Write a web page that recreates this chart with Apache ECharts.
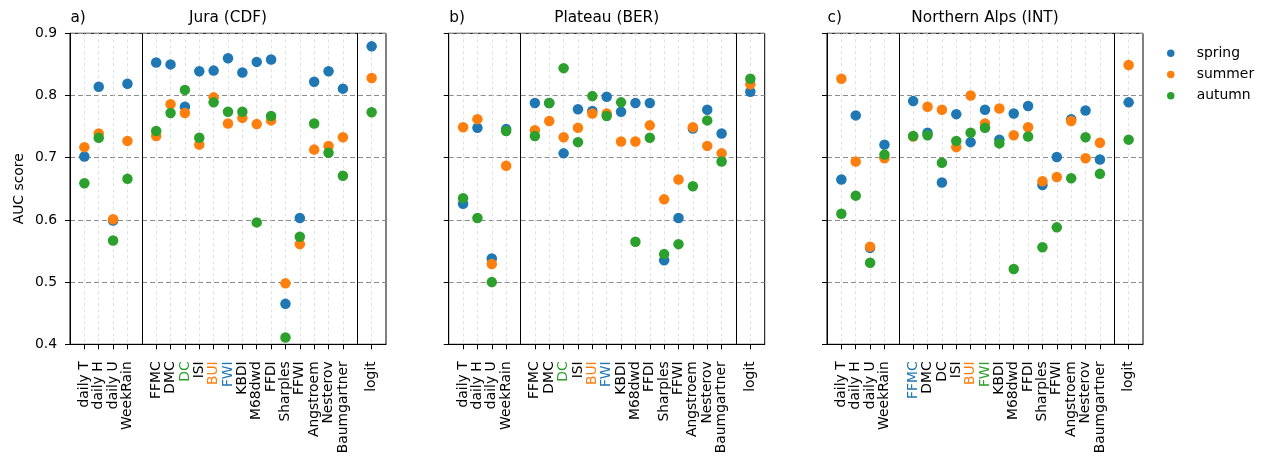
<!DOCTYPE html>
<html>
<head>
<meta charset="utf-8">
<script src="https://cdn.jsdelivr.net/npm/echarts@6/dist/echarts.min.js"></script>
<style>html,body{margin:0;padding:0;background:#fff}#c{width:1266px;height:466px}</style>
</head>
<body>
<div id="c"></div>
<script>
// ---- data ----
const dailyVars = ['daily T', 'daily H', 'daily U', 'WeekRain'];
const indices = ['FFMC', 'DMC', 'DC', 'ISI', 'BUI', 'FWI', 'KBDI', 'M68dwd', 'FFDI', 'Sharples', 'FFWI', 'Angstroem', 'Nesterov', 'Baumgartner'];
const models = ['logit'];
const categories = dailyVars.concat(indices, models);
const seasons = ['spring', 'summer', 'autumn'];
const yTicks = [0.4, 0.5, 0.6, 0.7, 0.8, 0.9];

const panelTitles = ['Jura (CDF)', 'Plateau (BER)', 'Northern Alps (INT)'];
const panelLetters = ['a)', 'b)', 'c)'];

// Jura (CDF)
const juraSpring = [0.702, 0.814, 0.599, 0.819, 0.853, 0.850, 0.782, 0.839, 0.840, 0.860, 0.837, 0.854, 0.858, 0.465, 0.603, 0.822, 0.839, 0.811, 0.879];
const juraSummer = [0.717, 0.739, 0.601, 0.727, 0.735, 0.786, 0.772, 0.721, 0.797, 0.755, 0.764, 0.754, 0.760, 0.498, 0.561, 0.713, 0.719, 0.733, 0.828];
const juraAutumn = [0.659, 0.732, 0.567, 0.666, 0.743, 0.772, 0.809, 0.732, 0.789, 0.774, 0.774, 0.596, 0.767, 0.411, 0.573, 0.755, 0.708, 0.671, 0.773];
// Plateau (BER)
const plateauSpring = [0.626, 0.748, 0.538, 0.746, 0.788, 0.788, 0.707, 0.778, 0.775, 0.798, 0.774, 0.788, 0.788, 0.535, 0.603, 0.747, 0.777, 0.739, 0.806];
const plateauSummer = [0.749, 0.762, 0.529, 0.687, 0.744, 0.759, 0.733, 0.748, 0.771, 0.771, 0.726, 0.726, 0.752, 0.633, 0.665, 0.749, 0.719, 0.707, 0.818];
const plateauAutumn = [0.635, 0.603, 0.500, 0.743, 0.735, 0.788, 0.844, 0.725, 0.799, 0.767, 0.789, 0.565, 0.732, 0.545, 0.561, 0.654, 0.760, 0.694, 0.827];
// Northern Alps (INT)
const alpsSpring = [0.665, 0.768, 0.555, 0.721, 0.791, 0.740, 0.660, 0.770, 0.725, 0.777, 0.729, 0.771, 0.783, 0.656, 0.701, 0.762, 0.776, 0.697, 0.789];
const alpsSummer = [0.827, 0.694, 0.557, 0.699, 0.734, 0.782, 0.777, 0.717, 0.800, 0.755, 0.779, 0.736, 0.749, 0.662, 0.669, 0.759, 0.699, 0.724, 0.849];
const alpsAutumn = [0.610, 0.639, 0.531, 0.705, 0.735, 0.736, 0.692, 0.727, 0.740, 0.748, 0.723, 0.521, 0.734, 0.556, 0.588, 0.667, 0.733, 0.674, 0.729];

const panelData = [
  [juraSpring, juraSummer, juraAutumn],
  [plateauSpring, plateauSummer, plateauAutumn],
  [alpsSpring, alpsSummer, alpsAutumn]
];
// best index label per season (coloured tick labels)
const juraBest = {FWI: 'spring', BUI: 'summer', DC: 'autumn'};
const plateauBest = {FWI: 'spring', BUI: 'summer', DC: 'autumn'};
const alpsBest = {FFMC: 'spring', BUI: 'summer', FWI: 'autumn'};
const panelBest = [juraBest, plateauBest, alpsBest];

// ---- layout / style ----
const colors = {spring: '#1f77b4', summer: '#ff7f0e', autumn: '#2ca02c'};
const FONT = 'DejaVu Sans';
const gridLefts = [70, 448.7, 827];
const gridW = 316, gridTop = 33.3, gridH = 311;

// slot axis: pad, daily vars, separator, indices, separator, models, pad
const slots = ['_p0'].concat(dailyVars, ['_s1'], indices, ['_s2'], models, ['_p1']);
const sepSlots = ['_s1', '_s2'];
const slotOf = name => slots.indexOf(name);

const grids = [], xAxes = [], yAxes = [], series = [], titles = [];
for (let p = 0; p < 3; p++) {
  grids.push({left: gridLefts[p], top: gridTop, width: gridW, height: gridH, show: true,
    borderColor: '#000', borderWidth: 1, backgroundColor: 'transparent', containLabel: false});
  const best = panelBest[p];
  xAxes.push({
    type: 'category', gridIndex: p, data: slots, boundaryGap: false,
    axisLine: {show: true, lineStyle: {color: '#000', width: 1}},
    axisTick: {show: true, length: 5, lineStyle: {color: '#000'}, interval: (i, v) => v[0] !== '_'},
    axisLabel: {
      interval: (i, v) => v[0] !== '_', rotate: 90, margin: 17,
      fontFamily: FONT, fontSize: 13.9,
      formatter: v => v[0] === '_' ? '' : v,
      color: v => best[v] ? colors[best[v]] : '#000'
    },
    splitLine: {show: true, interval: (i, v) => v[0] !== '_', lineStyle: {color: '#d9d9d9', type: [3, 3], width: 0.8}}
  });
  yAxes.push({
    type: 'value', gridIndex: p, min: yTicks[0], max: yTicks[yTicks.length - 1], interval: 0.1,
    name: p === 0 ? 'AUC score' : '', nameLocation: 'middle', nameGap: 44, nameRotate: 90,
    nameTextStyle: {fontFamily: FONT, fontSize: 13.9, color: '#000'},
    axisLine: {show: true, lineStyle: {color: '#000'}},
    axisTick: {show: true, length: 5, lineStyle: {color: '#000'}},
    axisLabel: {show: p === 0, margin: 13, fontFamily: FONT, fontSize: 13.9, color: '#000',
      formatter: v => v.toFixed(1)},
    splitLine: {show: true, lineStyle: {color: '#8c8c8c', type: [5, 3], width: 1}}
  });
  for (let s = 0; s < 3; s++) {
    const vals = panelData[p][s];
    const ser = {
      name: seasons[s], type: 'scatter', xAxisIndex: p, yAxisIndex: p,
      symbol: 'circle', symbolSize: 10.5,
      itemStyle: {color: colors[seasons[s]], opacity: 1},
      z: 3 + s,
      data: categories.map((c, i) => [slotOf(c), vals[i]])
    };
    if (s === 0) {
      ser.markLine = {silent: true, symbol: 'none', animation: false,
        label: {show: false},
        lineStyle: {color: '#000', type: 'solid', width: 1},
        emphasis: {disabled: true},
        data: sepSlots.map(n => ({xAxis: slotOf(n)}))};
    }
    series.push(ser);
  }
  titles.push({text: panelTitles[p], left: gridLefts[p] + gridW / 2, top: 11, padding: 0, textAlign: 'center',
    textStyle: {fontFamily: FONT, fontSize: 15.3, fontWeight: 'normal', color: '#000'}});
  titles.push({text: panelLetters[p], left: gridLefts[p] + 0.5, top: 11, padding: 0,
    textStyle: {fontFamily: FONT, fontSize: 15.3, fontWeight: 'normal', color: '#000'}});
}

const chart = echarts.init(document.getElementById('c'), null, {renderer: 'canvas'});
chart.setOption({
  animation: false,
  backgroundColor: '#fff',
  title: titles,
  legend: {
    data: seasons, orient: 'vertical', left: 1167, top: 46, padding: 0,
    itemWidth: 42, itemHeight: 7.5, itemGap: 7, icon: 'circle',
    textStyle: {fontFamily: FONT, fontSize: 13.9, color: '#000', lineHeight: 14.3}
  },
  grid: grids, xAxis: xAxes, yAxis: yAxes, series: series
});
</script>
</body>
</html>
